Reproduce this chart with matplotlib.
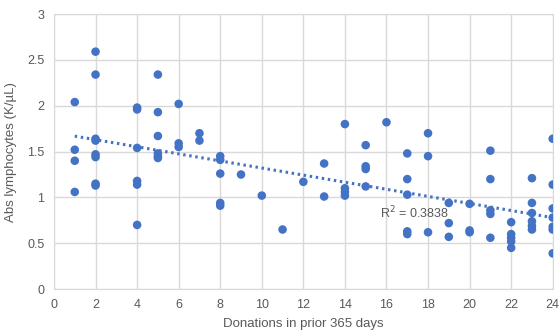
import numpy as np
import matplotlib
matplotlib.use("Agg")
import matplotlib.pyplot as plt

# donations in prior 365 days vs absolute lymphocyte count (K/uL)
donations = [1, 1, 1, 1,
             2, 2, 2, 2, 2, 2, 2, 2,
             4, 4, 4, 4, 4, 4,
             5, 5, 5, 5, 5, 5,
             6, 6, 6,
             7, 7,
             8, 8, 8, 8, 8,
             9, 10, 11, 12,
             13, 13,
             14, 14, 14, 14,
             15, 15, 15, 15,
             16,
             17, 17, 17, 17, 17,
             18, 18, 18,
             19, 19, 19,
             20, 20, 20,
             21, 21, 21, 21, 21,
             22, 22, 22, 22, 22,
             23, 23, 23, 23, 23, 23,
             24, 24, 24, 24, 24, 24, 24]
lymphocytes = [2.04, 1.52, 1.40, 1.06,
               2.59, 2.34, 1.64, 1.62, 1.47, 1.44, 1.15, 1.13,
               1.98, 1.96, 1.54, 1.18, 1.14, 0.70,
               2.34, 1.93, 1.67, 1.48, 1.45, 1.43,
               2.02, 1.59, 1.55,
               1.70, 1.62,
               1.45, 1.41, 1.26, 0.94, 0.91,
               1.25, 1.02, 0.65, 1.17,
               1.37, 1.01,
               1.80, 1.10, 1.06, 1.02,
               1.57, 1.34, 1.31, 1.12,
               1.82,
               1.48, 1.20, 1.03, 0.63, 0.60,
               1.70, 1.45, 0.62,
               0.94, 0.72, 0.57,
               0.93, 0.64, 0.62,
               1.51, 1.20, 0.86, 0.82, 0.56,
               0.73, 0.60, 0.56, 0.52, 0.45,
               1.21, 0.94, 0.83, 0.74, 0.69, 0.65,
               1.64, 1.14, 0.88, 0.78, 0.68, 0.65, 0.39]
r2_label = "R$^2$ = 0.3838"

blue = "#4472C4"
grid = "#d9d9d9"
txt = "#595959"
plt.rcParams['font.family'] = ['Liberation Sans', 'DejaVu Sans']

fig = plt.figure(figsize=(5.6, 3.35), dpi=100)
ax = fig.add_axes([0.0964, 0.137, 0.8906, 0.821])

# linear trendline fitted to the points
x = np.array(donations, dtype=float)
y = np.array(lymphocytes)
slope, icpt = np.polyfit(x, y, 1)
xs = np.array([x.min(), x.max()])
ax.plot(xs, slope * xs + icpt, color=blue, lw=2.2,
        linestyle=(0, (0.8, 1.2)), zorder=2)

ax.scatter(x, y, s=38, color=blue, edgecolors="none", zorder=3)

ax.text(15.7, 0.83, r2_label, fontsize=9, color=txt, va="center")

ax.set_xlim(0, 24)
ax.set_ylim(0, 3)
ax.set_xticks(range(0, 25, 2))
ax.set_yticks([0, 0.5, 1, 1.5, 2, 2.5, 3])
ax.set_yticklabels(["0", "0.5", "1", "1.5", "2", "2.5", "3"])
ax.grid(True, color=grid, lw=1)
ax.set_axisbelow(True)
for s in ax.spines.values():
    s.set_color(grid)
ax.tick_params(length=0, labelsize=9, colors=txt, pad=7)
ax.set_xlabel("Donations in prior 365 days", fontsize=9.5, color=txt, labelpad=5)
ax.set_ylabel("Abs lymphocytes (K/µL)", fontsize=9.5, color=txt, labelpad=7)

fig.savefig("out.png", dpi=100)
